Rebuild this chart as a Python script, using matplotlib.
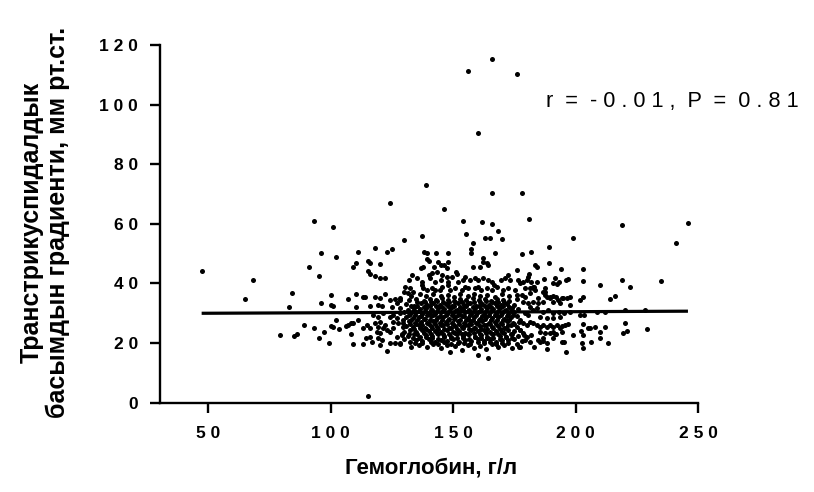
import matplotlib
matplotlib.use('Agg')
import matplotlib.pyplot as plt

plt.rcParams['font.family'] = ['Liberation Sans', 'DejaVu Sans']

# ---- sparse / outlying points (Hb g/L, gradient mmHg)
hb_sparse = [47.4, 65.2, 68.2, 79.3, 83.2, 84.3, 85.1, 86.2, 89.2, 91.2, 93.1, 93.1, 95.2, 95.2,
             96.3, 96.3, 97.2, 99.3, 100.2, 100.2, 101.2, 101.2, 100.2, 101.2, 102.2, 102.2, 103.3,
             107.2, 106.4, 107.3, 108.2, 108.2, 109.3, 109.3, 110.3, 110.3, 110.3, 111.2, 111.2,
             113.3, 114.2, 113.3, 113.3, 115.3, 115.3, 116.2, 115.3, 116.2, 118.3, 120.2, 122.2,
             118.3, 120.2, 123.2, 125.2, 124.4, 123.2, 130.1, 137.2, 139.1, 166.1, 156.1, 176.0,
             160.1, 166.1, 178.1, 146.2, 154.1, 162.0, 166.1, 181.1, 219.0, 245.9, 155.1, 168.2,
             163.1, 165.1, 170.1, 158.0, 157.2, 157.2, 148.1, 167.1, 178.2, 182.0, 189.2, 199.1,
             241.1, 189.2, 194.1, 203.2, 183.4, 184.1, 176.3, 181.2, 162.1, 163.7, 164.4, 158.3,
             161.0, 219.1, 222.1, 235.0, 210.1, 214.2, 216.1, 203.2, 196.3, 197.0, 191.6, 193.2,
             187.1, 220.2, 219.3, 221.0, 229.2, 213.1, 210.0, 210.0, 212.0, 208.0, 205.9, 203.2,
             203.2, 202.5, 203.2, 206.3, 199.1, 196.1, 194.5, 195.3, 197.0, 195.7, 193.7, 194.4,
             192.2, 188.2, 183.2, 177.0, 164.1, 160.1, 148.8, 185.5, 186.9, 191.0, 191.6, 197.8,
             197.8, 196.4, 195.0, 192.2, 192.9, 191.0, 188.2, 189.6, 187.6, 187.6, 183.2, 182.5]
grad_sparse = [44.2, 34.9, 41.2, 22.8, 32.1, 36.8, 22.5, 23.2, 26.2, 45.5, 60.9, 25.0, 42.4, 21.6,
               50.2, 33.4, 23.6, 19.9, 36.1, 32.7, 32.4, 59.0, 25.6, 25.5, 49.0, 27.6, 24.7,
               34.9, 25.7, 26.0, 26.6, 23.1, 19.6, 45.5, 47.0, 36.4, 32.1, 50.5, 27.9,
               35.6, 35.5, 25.2, 19.6, 2.2, 47.4, 46.8, 44.2, 43.3, 42.4, 41.9, 41.9,
               52.0, 46.4, 50.5, 51.5, 67.0, 17.4, 54.5, 55.9, 73.1, 115.2, 111.2, 110.3,
               90.4, 70.5, 70.5, 65.0, 61.0, 60.6, 60.1, 61.5, 59.5, 60.2, 56.7, 57.5,
               55.4, 55.2, 55.0, 53.5, 51.7, 50.1, 50.2, 50.1, 49.9, 50.7, 52.3, 55.2,
               53.7, 47.0, 45.0, 44.9, 46.2, 45.6, 44.4, 43.1, 47.2, 46.8, 46.2, 45.6,
               45.6, 41.2, 38.9, 40.9, 39.4, 34.9, 35.8, 40.8, 41.2, 41.5, 41.7, 40.6,
               41.4, 26.7, 23.3, 24.1, 24.6, 20.1, 23.8, 21.6, 25.5, 25.5, 25.2, 26.4,
               22.7, 19.9, 18.5, 20.5, 22.7, 17.1, 20.5, 20.4, 26.4, 26.1, 25.0, 25.7,
               23.1, 18.0, 18.8, 18.8, 14.9, 16.0, 17.1, 20.5, 20.8, 21.6, 23.1, 35.6,
               32.8, 35.0, 35.0, 35.6, 34.5, 33.9, 35.6, 35.0, 38.4, 37.2, 38.9, 38.4]

# ---- moderately dense band readings
hb_mid = [118.3, 120.2, 122.2, 126.3, 128.4, 130.1,
          138.3, 139.2, 143.2, 139.2, 140.2, 144.0, 145.1, 162.4, 137.9, 137.0, 142.2, 146.4, 147.4, 148.1,
          140.2, 141.3, 143.3, 145.4, 147.4, 149.4, 151.5, 151.1, 133.1, 132.1, 135.2, 137.2, 140.6, 142.7,
          145.1, 148.1, 152.2, 154.9, 154.2, 159.0, 160.3, 162.4, 164.4, 165.8, 156.9, 169.6, 171.2, 172.6,
          173.3, 176.7, 166.9, 130.4, 132.4, 133.8, 131.8, 137.2, 137.9, 139.2, 141.3, 142.7, 145.4, 144.7,
          148.1, 148.8, 150.8, 153.5, 154.9, 156.2, 159.0, 160.3, 161.6, 163.7, 165.8, 167.8, 170.5, 172.6,
          175.2,
          180.8, 177.3, 178.7, 180.0, 182.0, 184.1, 182.8, 181.4, 183.4, 179.4, 191.0, 192.3, 178.0, 179.4,
          181.4, 186.9, 187.6, 184.8, 189.6, 191.0, 194.3,
          116.1, 119.5, 120.9, 124.9, 127.0, 128.4, 109.3, 115.0, 116.1, 114.5, 116.1, 116.8, 118.2, 119.2,
          120.2, 121.6, 122.2, 118.9, 120.2, 122.9, 124.2, 125.6, 119.5, 120.9, 120.2, 124.2, 126.3, 128.4,
          127.0, 129.1, 125.6, 127.0, 127.6, 129.7, 129.7, 117.5, 119.5, 121.6, 124.2, 125.6, 128.4, 124.2,
          128.4,
          178.7, 180.8, 182.8, 184.8, 186.9, 193.7, 197.8, 201.9, 203.3, 177.3, 178.7, 180.0, 181.4, 182.8,
          184.1, 185.5, 186.9, 188.2, 189.6, 191.0, 192.3, 205.2, 202.2, 184.8, 186.9, 188.2, 177.3, 177.3,
          178.7, 180.0, 182.0, 179.4, 181.4, 185.5, 187.6, 189.6, 191.0, 194.3, 181.4, 182.8, 184.1, 179.4,
          180.8, 186.9, 188.9, 191.0, 193.1, 195.1, 185.5, 188.2, 191.0, 193.7,
          208.6, 212.0, 220.2, 228.4, 203.2, 201.8]
grad_mid = [35.5, 35.1, 36.4, 34.8, 35.2, 37.2,
            50.5, 50.1, 50.1, 48.1, 47.6, 47.1, 46.2, 48.5, 45.6, 45.1, 45.6, 46.2, 45.1, 47.3,
            42.9, 43.4, 43.9, 42.9, 42.3, 42.3, 43.1, 44.0, 42.9, 41.2, 41.7, 40.6, 41.7, 40.6,
            41.2, 40.6, 40.6, 42.3, 41.2, 41.9, 41.2, 41.7, 41.2, 40.6, 41.2, 41.2, 41.7, 42.9,
            41.2, 41.2, 39.5, 38.9, 38.4, 37.2, 36.7, 39.5, 38.4, 37.8, 38.4, 37.8, 38.9, 37.8,
            39.5, 37.8, 38.6, 37.8, 38.9, 38.4, 38.4, 38.9, 37.8, 38.4, 37.8, 38.9, 37.8, 38.4,
            37.8,
            42.3, 40.1, 40.6, 41.2, 40.6, 40.6, 38.9, 38.4, 37.8, 38.6, 40.1, 39.7, 36.1, 35.6,
            36.7, 37.2, 36.1, 35.0, 35.6, 35.9, 35.2,
            32.4, 32.8, 32.4, 32.2, 33.4, 31.7, 26.8, 26.1, 25.0, 21.6, 22.1, 20.5, 26.6, 25.5,
            27.2, 25.0, 26.1, 23.8, 23.3, 24.4, 23.8, 25.0, 21.6, 21.0, 19.4, 19.9, 20.1, 20.1,
            22.1, 22.7, 27.2, 28.3, 26.6, 27.8, 25.5, 29.4, 28.9, 30.0, 28.9, 29.4, 30.0, 34.5,
            34.5,
            33.9, 33.4, 33.9, 33.4, 33.9, 33.4, 30.5, 29.4, 29.4, 27.8, 26.6, 26.1, 27.2, 26.6,
            26.1, 25.5, 26.1, 25.5, 26.1, 25.5, 26.1, 25.0, 24.2, 21.0, 21.6, 19.9, 18.8, 24.4,
            23.3, 22.1, 22.7, 21.0, 20.5, 23.8, 23.3, 23.3, 23.8, 23.8, 32.2, 31.1, 31.7, 30.0,
            29.4, 30.5, 31.1, 30.0, 30.5, 30.0, 28.9, 28.3, 28.3, 28.9,
            30.5, 30.5, 31.1, 31.1, 35.6, 34.5]

# ---- dense core (x 128-180, y 18-37), read row by row
hb_core = [
    128.5, 133.0, 136.0, 139.5, 142.0, 145.0, 147.5, 151.0, 153.5, 156.0, 158.5, 161.0, 163.5, 166.0, 168.5, 171.0, 174.0, 176.0,
    130.0, 132.5, 135.0, 137.5, 140.0, 142.5, 145.0, 147.5, 150.0, 152.5, 155.0, 157.5, 160.0, 162.5, 165.0, 167.5, 170.0, 172.5, 175.0, 178.0,
    129.0, 131.5, 134.0, 136.5, 139.0, 141.5, 144.0, 146.5, 149.0, 151.5, 154.0, 156.5, 159.0, 161.5, 164.0, 166.5, 169.0, 171.5, 174.0, 176.5, 179.0,
    130.0, 132.5, 135.0, 137.5, 140.0, 142.5, 145.0, 147.5, 150.0, 152.5, 155.0, 157.5, 160.0, 162.5, 165.0, 167.5, 170.0, 172.5, 175.0, 177.5,
    131.0, 133.5, 136.0, 138.5, 141.0, 143.5, 146.0, 148.5, 151.0, 153.5, 156.0, 158.5, 161.0, 163.5, 166.0, 168.5, 171.0, 173.5, 176.0,
    129.5, 132.0, 134.5, 137.0, 139.5, 142.0, 144.5, 147.0, 149.5, 152.0, 154.5, 157.0, 159.5, 162.0, 164.5, 167.0, 169.5, 172.0, 174.5, 177.0,
    131.0, 133.5, 136.0, 138.5, 141.0, 143.5, 146.0, 148.5, 151.0, 153.5, 156.0, 158.5, 161.0, 163.5, 166.0, 168.5, 171.0, 173.5, 176.0,
    130.0, 132.5, 135.0, 137.5, 140.0, 142.5, 145.0, 147.5, 150.0, 152.5, 155.0, 157.5, 160.0, 162.5, 165.0, 167.5, 170.0, 172.5, 175.0,
    131.5, 134.0, 136.5, 139.0, 141.5, 144.0, 146.5, 149.0, 151.5, 154.0, 156.5, 159.0, 161.5, 164.0, 166.5, 169.0, 171.5, 174.0, 176.5,
    131.0, 134.0, 137.0, 139.5, 142.0, 144.5, 147.0, 149.5, 152.0, 154.5, 157.0, 159.5, 162.0, 164.5, 167.0, 169.5, 172.0, 175.0,
    132.0, 135.0, 138.0, 140.5, 143.0, 145.5, 148.0, 150.5, 153.0, 155.5, 158.0, 160.5, 163.0, 165.5, 168.0, 170.5, 173.0, 176.0,
    133.0, 136.5, 139.0, 142.0, 145.0, 148.0, 150.5, 153.0, 156.0, 158.5, 161.0, 164.0, 167.0, 170.0, 173.0, 176.0]
grad_core = [
    19.6, 18.8, 19.4, 18.6, 19.8, 18.4, 19.2, 18.9, 17.8, 19.5, 18.3, 19.1, 18.0, 19.6, 18.7, 19.3, 18.2, 19.8,
    21.4, 20.5, 21.1, 20.8, 21.5, 20.4, 21.2, 20.7, 21.4, 20.5, 21.0, 20.8, 21.5, 20.6, 21.3, 20.4, 21.1, 20.9, 21.4, 20.6,
    23.0, 22.4, 22.9, 22.1, 22.8, 22.3, 23.1, 22.5, 22.0, 22.9, 22.4, 23.0, 22.2, 22.7, 22.1, 23.0, 22.5, 22.2, 22.9, 22.4, 22.8,
    23.8, 24.3, 23.6, 24.5, 23.9, 24.2, 23.6, 24.4, 23.8, 24.1, 23.5, 24.5, 23.9, 24.3, 23.7, 24.2, 23.6, 24.4, 23.9, 24.5,
    25.8, 25.3, 26.0, 25.1, 25.7, 25.4, 26.0, 25.2, 25.8, 25.3, 25.9, 25.1, 25.6, 26.0, 25.3, 25.8, 25.2, 25.9, 25.4,
    26.8, 27.4, 26.6, 27.1, 26.7, 27.5, 26.9, 27.2, 26.6, 27.4, 26.8, 27.3, 26.7, 27.5, 26.9, 27.2, 26.6, 27.4, 26.8, 27.1,
    28.9, 28.3, 28.7, 28.2, 29.0, 28.4, 28.8, 28.1, 28.6, 29.0, 28.3, 28.7, 28.2, 28.9, 28.4, 28.8, 28.2, 28.6, 29.0,
    30.4, 29.8, 30.3, 29.6, 30.2, 29.9, 30.5, 29.7, 30.1, 29.6, 30.4, 29.8, 30.3, 29.9, 30.5, 29.7, 30.2, 29.8, 30.4,
    31.2, 31.9, 31.3, 31.7, 31.1, 31.8, 31.4, 31.9, 31.2, 31.6, 31.1, 31.8, 31.3, 31.9, 31.4, 31.7, 31.2, 31.8, 31.3,
    33.0, 32.6, 33.3, 32.8, 33.4, 32.7, 33.1, 32.5, 33.3, 32.9, 33.4, 32.6, 33.1, 32.8, 33.5, 32.7, 33.2, 32.9,
    34.4, 34.9, 34.2, 34.8, 34.3, 35.0, 34.5, 34.1, 34.8, 34.4, 35.0, 34.3, 34.7, 34.2, 34.9, 34.5, 34.1, 34.8,
    35.9, 36.3, 35.7, 36.4, 35.8, 36.2, 35.6, 36.5, 35.9, 36.3, 35.7, 36.1, 35.6, 36.4, 35.8, 36.2]

# ---- in-between rows of the dense core
hb_core2 = [
    134.5, 137.5, 141.0, 144.0, 146.5, 149.0, 152.0, 154.5, 157.0, 160.0, 162.5, 165.0, 167.5, 170.0, 172.5,
    133.5, 136.0, 139.0, 141.5, 144.0, 146.5, 149.0, 151.5, 154.0, 156.5, 159.0, 161.5, 164.0, 166.5, 169.0, 171.5, 174.0,
    132.0, 135.5, 138.0, 141.0, 143.5, 146.0, 148.5, 151.0, 153.5, 156.0, 158.5, 161.0, 163.5, 166.0, 168.5, 171.0, 173.5,
    134.0, 136.5, 139.0, 141.5, 144.0, 146.5, 149.0, 151.5, 154.0, 156.5, 159.0, 161.5, 164.0, 166.5, 169.0, 171.5,
    132.5, 135.0, 137.5, 140.0, 142.5, 145.0, 147.5, 150.0, 152.5, 155.0, 157.5, 160.0, 162.5, 165.0, 167.5, 170.0, 172.5, 175.0,
    133.0, 135.5, 138.0, 140.5, 143.0, 145.5, 148.0, 150.5, 153.0, 155.5, 158.0, 160.5, 163.0, 165.5, 168.0, 170.5, 173.0,
    132.0, 134.5, 137.0, 139.5, 142.0, 144.5, 147.0, 149.5, 152.0, 154.5, 157.0, 159.5, 162.0, 164.5, 167.0, 169.5, 172.0, 174.5,
    133.5, 136.0, 138.5, 141.0, 143.5, 146.0, 148.5, 151.0, 153.5, 156.0, 158.5, 161.0, 163.5, 166.0, 168.5, 171.0, 173.5,
    133.0, 135.5, 138.0, 140.5, 143.0, 145.5, 148.0, 150.5, 153.0, 155.5, 158.0, 160.5, 163.0, 165.5, 168.0, 170.5, 173.0,
    135.5, 138.5, 141.0, 143.5, 146.0, 148.5, 151.0, 153.5, 156.0, 158.5, 161.0, 163.5, 166.0, 168.5, 171.0]
grad_core2 = [
    20.0, 19.9, 20.2, 19.8, 20.3, 19.7, 20.1, 20.0, 19.8, 20.3, 19.9, 20.2, 19.7, 20.1, 19.9,
    21.8, 21.6, 21.9, 21.7, 21.5, 21.9, 21.6, 21.8, 21.7, 21.5, 21.9, 21.6, 21.8, 21.7, 21.5, 21.9, 21.6,
    23.2, 23.0, 23.3, 23.1, 23.4, 23.0, 23.2, 23.3, 23.0, 23.2, 23.4, 23.1, 23.3, 23.0, 23.2, 23.4, 23.1,
    24.8, 24.9, 24.7, 25.0, 24.8, 24.7, 24.9, 24.8, 25.0, 24.7, 24.9, 24.8, 24.7, 25.0, 24.8, 24.9,
    26.3, 26.4, 26.2, 26.5, 26.3, 26.2, 26.4, 26.3, 26.5, 26.2, 26.4, 26.3, 26.2, 26.5, 26.3, 26.4, 26.2, 26.3,
    27.9, 27.7, 28.0, 27.8, 27.6, 27.9, 27.7, 28.0, 27.8, 27.6, 27.9, 27.7, 28.0, 27.8, 27.6, 27.9, 27.7,
    29.3, 29.4, 29.2, 29.5, 29.3, 29.2, 29.4, 29.3, 29.5, 29.2, 29.4, 29.3, 29.2, 29.5, 29.3, 29.4, 29.2, 29.3,
    30.8, 30.9, 30.7, 31.0, 30.8, 30.7, 30.9, 30.8, 31.0, 30.7, 30.9, 30.8, 30.7, 31.0, 30.8, 30.9, 30.7,
    32.3, 32.4, 32.2, 32.5, 32.3, 32.2, 32.4, 32.3, 32.1, 32.4, 32.2, 32.5, 32.3, 32.2, 32.4, 32.3, 32.1,
    33.8, 33.9, 33.7, 34.0, 33.8, 33.7, 33.9, 33.8, 33.6, 33.9, 33.7, 34.0, 33.8, 33.7, 33.9]

# ---- regression line end points and stats text
fit_x = [47.4, 245.9]
fit_y = [30.0, 30.7]
stats_text = "r  =  - 0 . 0 1 ,  P  =  0 . 8 1"

x_ticks = [50, 100, 150, 200, 250]
y_ticks = [0, 20, 40, 60, 80, 100, 120]
x_label = "Гемоглобин, г/л"
y_label = "Транстрикуспидалдык\nбасымдын градиенти, мм рт.ст."


def spaced(v):
    return " ".join(str(v))


hb = hb_sparse + hb_mid + hb_core + hb_core2
grad = grad_sparse + grad_mid + grad_core + grad_core2

fig = plt.figure(figsize=(8.14, 4.92), dpi=100)
ax = fig.add_axes([160 / 814, 89.3 / 492, 538 / 814, 357.7 / 492])
ax.set_xlim(30.4, 250)
ax.set_ylim(0, 120)

ax.scatter(hb, grad, s=13, c='black', linewidths=0, zorder=3, clip_on=False)
ax.plot(fit_x, fit_y, color='black', lw=2.3, zorder=4, solid_capstyle='butt')

for s in ['top', 'right']:
    ax.spines[s].set_visible(False)
for s in ['left', 'bottom']:
    ax.spines[s].set_linewidth(1.7)

ax.set_xticks(x_ticks)
ax.set_xticklabels([spaced(v) for v in x_ticks])
ax.set_yticks(y_ticks)
ax.set_yticklabels([spaced(v) for v in y_ticks])
ax.tick_params(direction='out', length=7, width=1.7, labelsize=12.5)
ax.tick_params(axis='x', pad=10)
ax.tick_params(axis='y', pad=9)
for lbl in ax.get_xticklabels() + ax.get_yticklabels():
    lbl.set_fontweight('bold')

fig.text(546 / 814, 1 - 102 / 492, stats_text, ha='left', va='center', fontsize=15.7)
fig.text(431 / 814, 1 - 468 / 492, x_label, ha='center', va='center',
         fontsize=16, fontweight='bold')
fig.text(45 / 814, 1 - 222 / 492, y_label, ha='center', va='center', rotation=90,
         multialignment='center', fontsize=18, fontweight='bold', linespacing=1.1)

fig.savefig('out.png', dpi=100)
